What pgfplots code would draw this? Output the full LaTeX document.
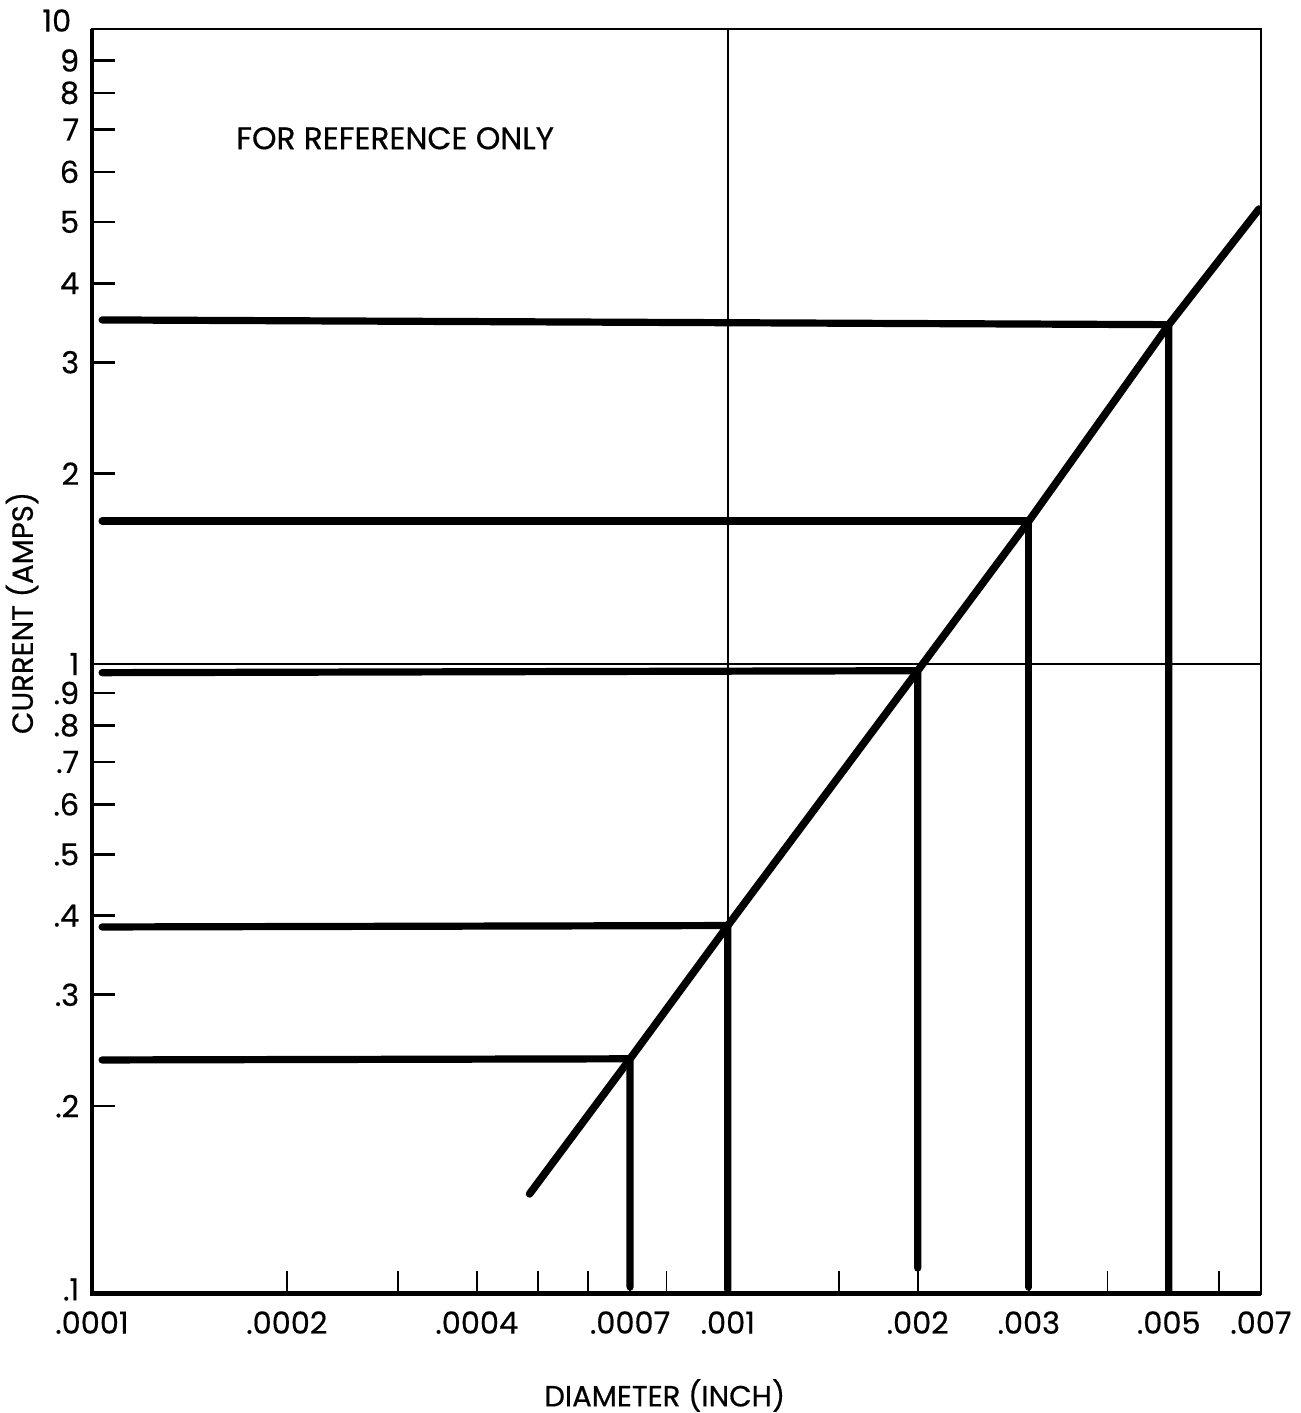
\documentclass[border=0pt]{standalone}
\usepackage{fontspec}
\setmainfont{Poppins}[FakeBold=0.5]
\usepackage{pgfplots}
\pgfplotsset{compat=1.18}
\begin{document}
\begin{tikzpicture}
\begin{axis}[
  scale only axis, width=292.25pt, height=316.25pt,
  xmode=log, ymode=log,
  xmin=0.0000982, xmax=0.007, ymin=0.1011, ymax=10.11,
  axis line style={line width=0.5pt, black},
  tick align=inside,
  xtick pos=bottom, ytick pos=left,
  xtick={0.0002,0.0003,0.0004,0.0005,0.0006,0.0007,0.0008,0.001,0.0015,0.002,0.003,0.004,0.005,0.006,0.007},
  xticklabels={.0002,{},.0004,{},{},.0007,{},.001,{},.002,.003,{},.005,{},.007},
  ytick={0.2,0.3,0.4,0.5,0.6,0.7,0.8,0.9,1,2,3,4,5,6,7,8,9},
  yticklabels={.2,.3,.4,.5,.6,.7,.8,.9,1,2,3,4,5,6,7,8,9},
  major tick length=5.75pt,
  xtick style={line width=0.4pt, black},
  ytick style={line width=0.65pt, black},
  ticklabel style={font=\fontsize{7.6}{8}\selectfont},
  xticklabel style={anchor=north, inner sep=0pt, yshift=-4.25pt},
  yticklabel style={anchor=east, inner sep=0pt, xshift=-3pt},
  extra x ticks={0.001}, extra x tick labels={},
  extra y ticks={1}, extra y tick labels={},
  extra tick style={grid=major, major tick length=0pt},
  major grid style={line width=0.4pt, black},
  xlabel={DIAMETER (INCH)},
  ylabel={CURRENT (AMPS)},
  label style={font=\fontsize{7.3}{8}\selectfont},
  xlabel style={at={(rel axis cs:0.49,-0.0806)}, anchor=center},
  ylabel style={at={(rel axis cs:-0.0599,0.538)}, anchor=center},
]
\addplot[line width=1.9pt, line cap=round, line join=round, black] coordinates {
  (0.000485,0.1453) (0.0007,0.2376) (0.001,0.386) (0.002,0.976) (0.003,1.683) (0.005,3.44) (0.00695,5.24)};
\addplot[line width=1.8pt, line cap=round, black] coordinates {(0.0001019,3.50) (0.005,3.44) (0.005,0.1011)};
\addplot[line width=1.8pt, line cap=round, black] coordinates {(0.0001019,1.683) (0.003,1.683) (0.003,0.1035)};
\addplot[line width=1.8pt, line cap=round, black] coordinates {(0.0001019,0.969) (0.002,0.976) (0.002,0.1109)};
\addplot[line width=1.8pt, line cap=round, black] coordinates {(0.0001019,0.384) (0.001,0.386) (0.001,0.1024)};
\addplot[line width=1.8pt, line cap=round, black] coordinates {(0.0001019,0.2366) (0.0007,0.2376) (0.0007,0.1035)};
\node[font=\fontsize{7.8}{8}\selectfont] at (axis cs:0.000297,6.78) {FOR REFERENCE ONLY};
\coordinate (SW) at (rel axis cs:0,0);
\coordinate (NW) at (rel axis cs:0,1);
\coordinate (SE) at (rel axis cs:1,0);
\coordinate (NE) at (rel axis cs:1,1);
\end{axis}
\draw[line width=1.1pt, black] (NW) -- (SW) -- (SE);
\node[font=\fontsize{7.6}{8}\selectfont, anchor=north, inner sep=0pt, yshift=-4.25pt] at (SW) {.0001};
\node[font=\fontsize{7.6}{8}\selectfont, anchor=east, inner sep=0pt, xshift=-3pt, yshift=1pt] at (SW) {.1};
\node[font=\fontsize{7.6}{8}\selectfont, anchor=east, inner sep=0pt, xshift=-5pt, yshift=2pt] at (NW) {10};
\pgfresetboundingbox
\path ([shift={(-23pt,-29.875pt)}]SW) rectangle ([shift={(10pt,7.125pt)}]NE);
\end{tikzpicture}
\end{document}
